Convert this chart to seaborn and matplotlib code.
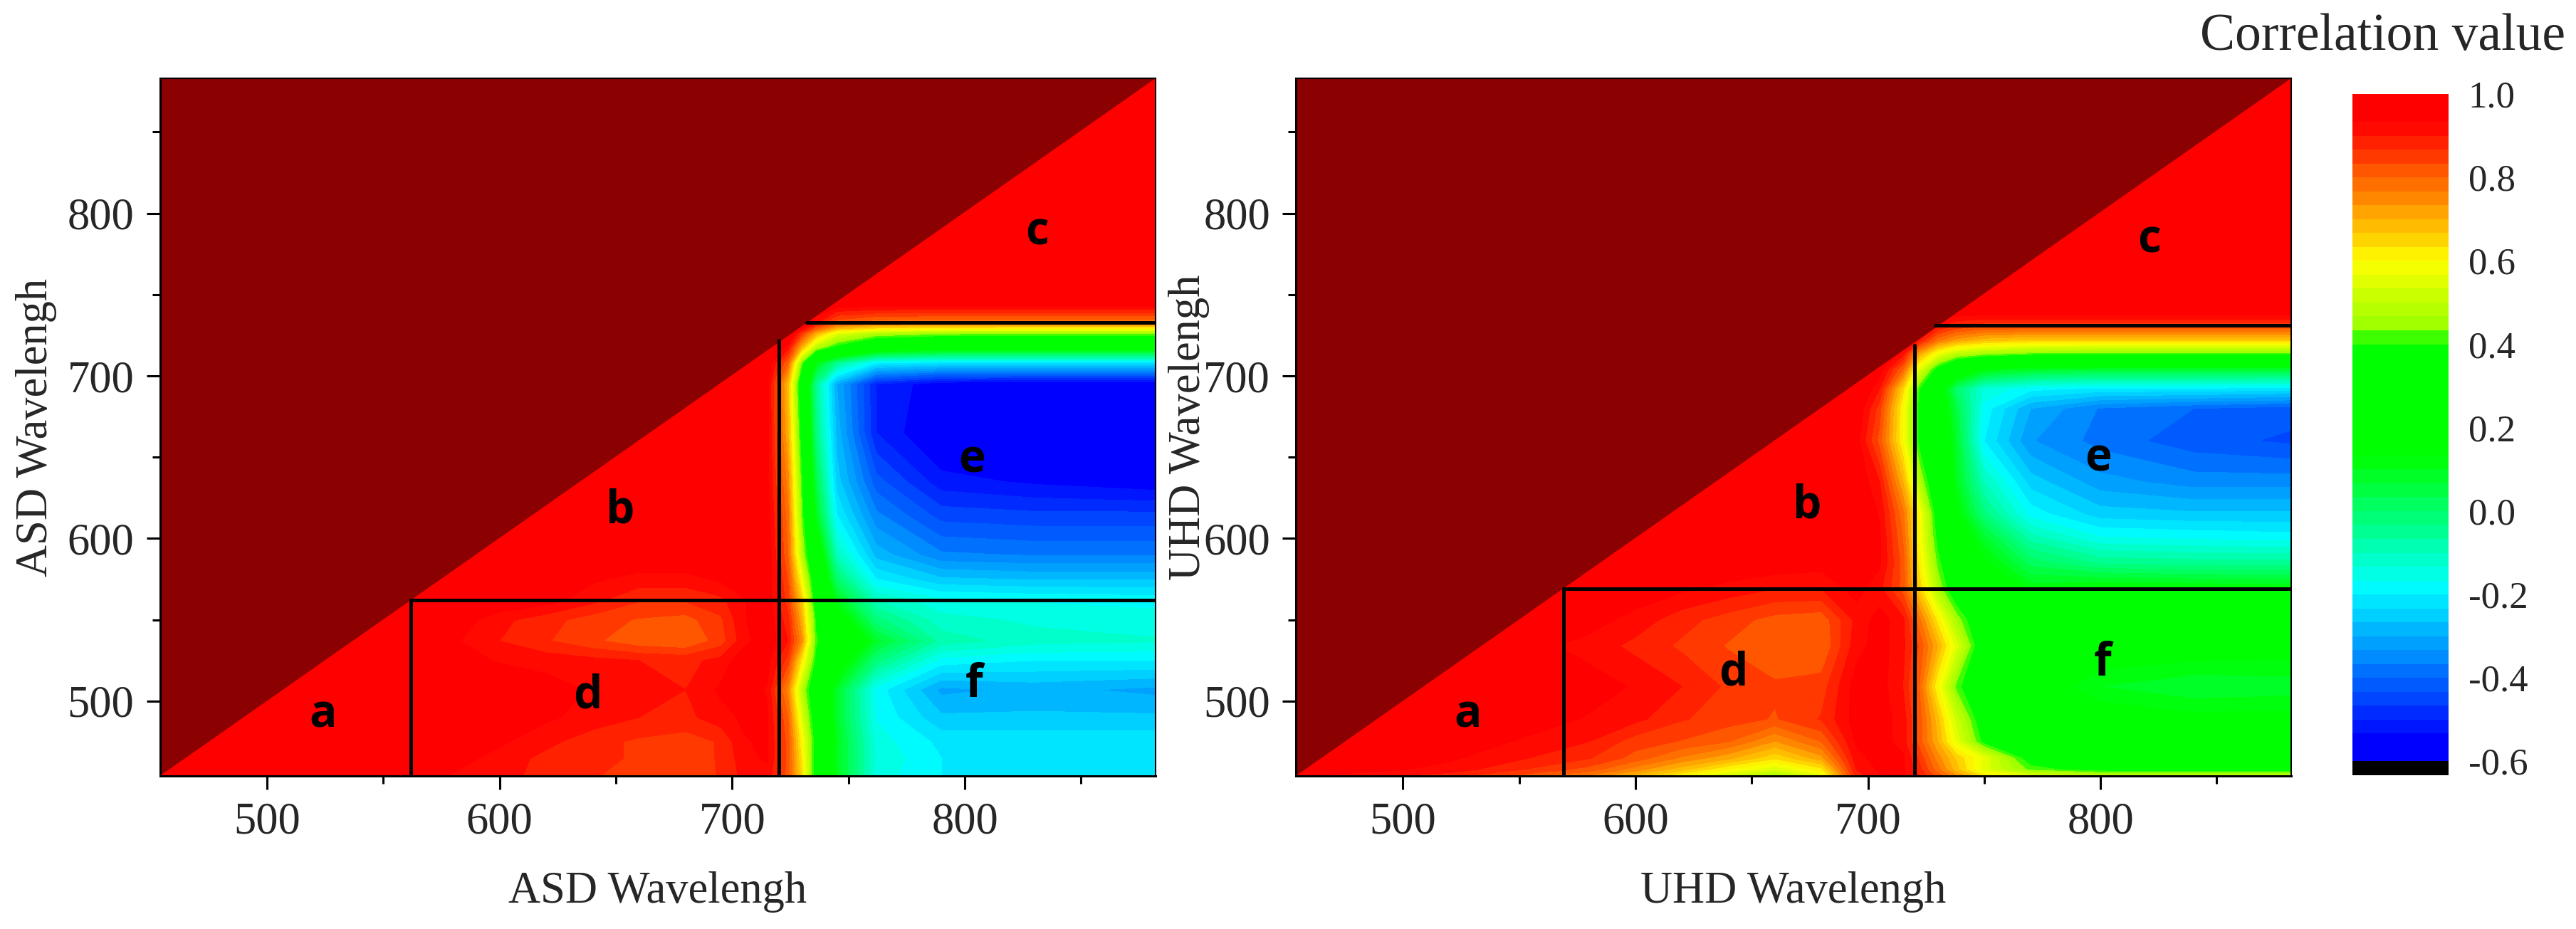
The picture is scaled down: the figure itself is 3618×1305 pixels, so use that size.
"""
Correlation maps of ASD and UHD wavelengths, with a shared colour scale
"""

import numpy as np
import pandas as pd
import matplotlib
matplotlib.use('Agg')
import matplotlib.pyplot as plt
from matplotlib.colors import LinearSegmentedColormap, ListedColormap, BoundaryNorm
import seaborn as sns

sns.set_theme(style='ticks')
plt.rcParams['font.family'] = ['Liberation Serif', 'DejaVu Sans']

# values
asd_x = [454, 520, 580, 600, 620, 640, 660, 680, 695, 705, 715, 724, 730, 736, 745, 762, 790, 830, 882]
asd_y = [454, 465, 475, 490, 507, 525, 537, 550, 562, 575, 590, 615, 635, 665, 695, 708, 718, 726, 732, 745, 883]
asd_values = [
    [1, 1, .93, .91, .89, .87, .85, .84, .87, .91, .92, .82, .64, .34, .10, -.15, -.20, -.20, -.20],
    [1, 1, .95, .92, .89, .88, .86, .85, .87, .92, .94, .82, .62, .35, .10, -.14, -.20, -.20, -.20],
    [1, 1, .97, .94, .91, .88, .86, .85, .87, .93, .94, .82, .60, .36, .10, -.15, -.21, -.21, -.21],
    [1, 1, .98, .96, .94, .92, .90, .89, .92, .94, .94, .80, .54, .33, .08, -.17, -.26, -.26, -.26],
    [1, 1, .99, .97, .95, .93, .91, .90, .94, .95, .93, .75, .48, .30, .08, -.18, -.31, -.29, -.31],
    [1, 1, .95, .93, .92, .91, .90, .89, .91, .96, .95, .85, .62, .38, .20, -.02, -.18, -.20, -.20],
    [1, 1, .94, .90, .87, .84, .81, .80, .85, .92, .96, .90, .74, .41, .30, .08, -.08, -.12, -.13],
    [1, 1, .96, .91, .88, .85, .83, .82, .86, .93, .96, .88, .70, .39, .20, -.02, -.12, -.14, -.15],
    [1, 1, 1, .97, .95, .91, .87, .87, .89, .93, .96, .85, .66, .34, .10, -.10, -.16, -.17, -.18],
    [1, 1, 1, .99, .97, .94, .92, .92, .94, .97, .97, .83, .58, .30, .00, -.20, -.26, -.27, -.27],
    [1, 1, 1, 1, 1, .98, .97, .97, .98, .98, .97, .80, .48, .24, -.10, -.28, -.36, -.37, -.37],
    [1, 1, 1, 1, 1, 1, 1, .99, .98, .98, .96, .78, .42, .10, -.20, -.36, -.45, -.46, -.46],
    [1, 1, 1, 1, 1, 1, 1, 1, .98, .97, .95, .75, .40, .05, -.25, -.42, -.52, -.54, -.56],
    [1, 1, 1, 1, 1, 1, 1, 1, .98, .97, .95, .70, .35, -.02, -.28, -.50, -.58, -.60, -.60],
    [1, 1, 1, 1, 1, 1, 1, 1, 1, .98, .95, .68, .30, -.05, -.30, -.50, -.56, -.57, -.57],
    [1, 1, 1, 1, 1, 1, 1, 1, 1, 1, .97, .80, .42, .12, -.05, -.20, -.22, -.22, -.22],
    [1, 1, 1, 1, 1, 1, 1, 1, 1, 1, 1, .92, .70, .50, .38, .25, .20, .20, .20],
    [1, 1, 1, 1, 1, 1, 1, 1, 1, 1, 1, 1, .85, .70, .55, .47, .44, .43, .43],
    [1, 1, 1, 1, 1, 1, 1, 1, 1, 1, 1, 1, 1, .90, .80, .76, .75, .75, .75],
    [1, 1, 1, 1, 1, 1, 1, 1, 1, 1, 1, 1, 1, 1, .97, .97, .97, .97, .97],
    [1] * 19,
]

uhd_x = [454, 520, 580, 600, 620, 640, 660, 680, 695, 705, 715, 722, 730, 738, 750, 770, 800, 840, 882]
uhd_y = [454, 458, 465, 475, 489, 509, 534, 550, 569, 585, 600, 615, 635, 660, 680, 692, 704, 714, 722, 732, 740, 883]
uhd_values = [
    [.94, .88, .76, .68, .60, .52, .46, .55, .88, .93, .94, .90, .82, .74, .62, .55, .50, .50, .50],
    [.97, .92, .82, .75, .68, .60, .54, .62, .90, .94, .94, .88, .78, .68, .55, .42, .37, .36, .36],
    [1, .94, .87, .82, .76, .71, .64, .72, .92, .95, .94, .86, .75, .66, .56, .36, .28, .28, .28],
    [1, .96, .90, .85, .83, .80, .73, .80, .94, .95, .92, .82, .70, .56, .38, .28, .22, .20, .20],
    [1, .98, .93, .91, .87, .85, .83, .87, .95, .95, .92, .82, .68, .52, .34, .24, .17, .15, .15],
    [1, .98, .95, .93, .90, .86, .84, .85, .95, .95, .90, .80, .60, .42, .30, .18, .10, .07, .08],
    [1, .98, .92, .89, .86, .83, .80, .80, .92, .95, .91, .83, .70, .55, .32, .22, .18, .17, .16],
    [1, .98, .95, .92, .88, .85, .82, .81, .91, .95, .91, .78, .62, .46, .30, .22, .20, .20, .19],
    [1, 1, .98, .96, .94, .92, .90, .90, .95, .91, .82, .66, .47, .33, .25, .12, .15, .14, .13],
    [1, 1, 1, .99, .98, .97, .96, .95, .96, .94, .82, .62, .42, .28, .15, .02, -.04, -.05, -.05],
    [1, 1, 1, 1, 1, .98, .97, .97, .97, .94, .80, .60, .38, .20, .08, -.08, -.16, -.17, -.18],
    [1, 1, 1, 1, 1, 1, 1, .98, .97, .93, .78, .60, .35, .15, -.02, -.18, -.25, -.26, -.26],
    [1, 1, 1, 1, 1, 1, 1, 1, .97, .90, .70, .48, .30, .10, -.10, -.25, -.32, -.35, -.35],
    [1, 1, 1, 1, 1, 1, 1, 1, .95, .82, .60, .38, .25, .08, -.20, -.33, -.38, -.42, -.44],
    [1, 1, 1, 1, 1, 1, 1, 1, .97, .85, .60, .38, .22, .05, -.18, -.30, -.37, -.40, -.42],
    [1, 1, 1, 1, 1, 1, 1, 1, 1, .90, .65, .40, .20, .00, -.14, -.19, -.21, -.21, -.22],
    [1, 1, 1, 1, 1, 1, 1, 1, 1, .96, .80, .55, .36, .22, .12, .08, .07, .07, .07],
    [1, 1, 1, 1, 1, 1, 1, 1, 1, 1, .92, .72, .58, .50, .46, .43, .42, .42, .42],
    [1, 1, 1, 1, 1, 1, 1, 1, 1, 1, 1, .90, .78, .72, .68, .66, .66, .66, .66],
    [1, 1, 1, 1, 1, 1, 1, 1, 1, 1, 1, 1, .92, .88, .86, .86, .86, .86, .86],
    [1, 1, 1, 1, 1, 1, 1, 1, 1, 1, 1, 1, 1, .97, .97, .97, .97, .97, .97],
    [1] * 19,
]

asd_lines = [([562, 882], [562, 562]), ([562, 562], [454, 562]),
             ([720, 720], [454, 722]), ([732, 882], [733, 733])]
uhd_lines = [([569, 882], [569, 569]), ([569, 569], [454, 569]),
             ([720, 720], [454, 719]), ([729, 882], [731, 731])]

asd_letters = {'a': (524, 491), 'b': (652, 617), 'c': (831, 788),
               'd': (638, 503), 'e': (803, 648), 'f': (804, 510)}
uhd_letters = {'a': (528, 491), 'b': (674, 620), 'c': (821, 783),
               'd': (642, 517), 'e': (799, 649), 'f': (801, 523)}

major_ticks = [500, 600, 700, 800]
minor_ticks = [550, 650, 750, 850]
scale_ticks = [1.0, 0.8, 0.6, 0.4, 0.2, 0.0, -0.2, -0.4, -0.6]

W, H = 3618, 1305
FONT = 45

# colour scale: 48 bands with the jump from yellow-green to green
base = LinearSegmentedColormap.from_list('corr', [
    (0.0, '#0000ff'), (0.05 / 1.6, '#0000ff'), (0.42 / 1.6, '#00ffff'),
    (0.73 / 1.6, '#00ff00'), (1.01 / 1.6, '#00ff00'), (1.025 / 1.6, '#90ff00'),
    (1.2 / 1.6, '#ffff00'), (1.53 / 1.6, '#ff0000'), (1.0, '#ff0000')])
n_bands = 48
band_colors = base((np.arange(n_bands) + 0.5) / n_bands)
cmap = ListedColormap(band_colors)
cmap.set_under('black')
levels = np.linspace(-0.6, 1.0, n_bands + 1)
levels[-1] = 1.01
norm = BoundaryNorm(levels, n_bands)


def add_axes(fig, left, top, right, bottom):
    return fig.add_axes([left / W, 1 - bottom / H, (right - left) / W, (bottom - top) / H])


def draw_panel(ax, xs, ys, values, lines, letters, xlabel, ylabel, label_x):
    ax.contourf(xs, ys, np.array(values, dtype=float), levels=levels, cmap=cmap, norm=norm)
    # the upper triangle is a plain dark red
    ax.fill([xs[0], xs[-1], xs[0]], [ys[0], ys[-1], ys[-1]], color='#8b0000', lw=0, zorder=2)
    for lx, ly in lines:
        sns.lineplot(x=lx, y=ly, ax=ax, color='black', lw=3.6, sort=False, estimator=None,
                     legend=False, zorder=3)
    for letter, (tx, ty) in letters.items():
        ax.text(tx, ty, letter, family='Open Sans', fontweight='bold', fontsize=46,
                ha='center', va='center', color='black', zorder=4)
    ax.set_xlim(xs[0], xs[-1])
    ax.set_ylim(ys[0], ys[-1])
    ax.set_xticks(major_ticks)
    ax.set_yticks(major_ticks)
    ax.set_xticks(minor_ticks, minor=True)
    ax.set_yticks(minor_ticks, minor=True)
    ax.tick_params(which='major', length=14, width=2.2, labelsize=FONT, pad=12, color='black')
    ax.tick_params(which='minor', length=8, width=2.2, color='black')
    ax.set_xlabel(xlabel, fontsize=FONT)
    ax.set_ylabel(ylabel, fontsize=FONT)
    ax.xaxis.set_label_coords(0.5, -(1253 - 1090) / 980, transform=ax.transAxes)
    ax.yaxis.set_label_coords(label_x, 0.5, transform=ax.transAxes)
    ax.xaxis.label.set_va('center')
    ax.yaxis.label.set_va('center')
    for name, spine in ax.spines.items():
        spine.set_visible(True)
        spine.set_color('black')
        spine.set_linewidth(2.2 if name in ('left', 'bottom') else 1.5)
        spine.set_zorder(5)


fig = plt.figure(figsize=(W / 100, H / 100), dpi=100)

ax1 = add_axes(fig, 224.5, 110, 1623, 1090)
draw_panel(ax1, asd_x, asd_y, asd_values, asd_lines, asd_letters,
           'ASD Wavelengh', 'ASD Wavelengh', -(224.5 - 51) / 1398.5)

ax2 = add_axes(fig, 1820, 110, 3218, 1090)
draw_panel(ax2, uhd_x, uhd_y, uhd_values, uhd_lines, uhd_letters,
           'UHD Wavelengh', 'UHD Wavelengh', -(1820 - 1670) / 1398)

# colour bar: one column of the band values, black band below -0.6
cax = add_axes(fig, 3304, 132, 3439, 1089)
step = 1.6 / n_bands
band_values = list(1.0 - (np.arange(n_bands) + 0.5) * step) + [-0.7]
scale = pd.DataFrame({'value': band_values})
sns.heatmap(scale, ax=cax, cmap=cmap, norm=norm, cbar=False, xticklabels=False, yticklabels=False)
cax.set_xlabel('')
cax.set_ylabel('')
cax.set_yticks([(1.0 - v) / step for v in scale_ticks])
cax.set_yticklabels(['%.1f' % v for v in scale_ticks], rotation=0)
cax.yaxis.tick_right()
cax.tick_params(axis='y', length=0, labelsize=38, pad=20)
fig.text(3347 / W, 1 - 52 / H, 'Correlation value', fontsize=53, ha='center', va='center')

plt.savefig('out.png', dpi=100)
plt.close()
